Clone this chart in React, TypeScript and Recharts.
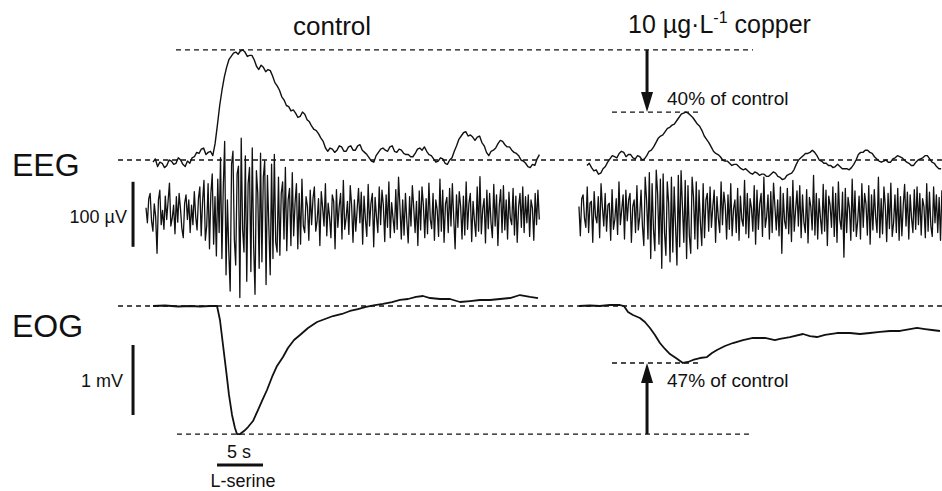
import { ComposedChart, Line, XAxis, YAxis, ReferenceLine, ReferenceDot } from "recharts";

const WIDTH = 942;
const HEIGHT = 491;
const PX_PER_S = 9.2; // 5 s scale bar = 46 px

// where each recording starts on the shared time axis (s)
const CONTROL_T0 = 15.87;
const COPPER_T0 = 62.93;

// integrated EEG, % of control peak, sampled every 0.25 s
const INT_STEP = 0.25;
const INT_CONTROL_START = 0.76;
const INT_CONTROL = [
  -2, 1, -6, -2, -3, -7, -5, 0, -1, -4, -3, 2, 0, -4, -6, -1, -3, 2, 3, 7, 6, 10, 11, 5, 7, 8, 4, 15, 32, 50, 64, 76,
  85, 92, 95, 98, 99, 97, 100, 101, 99, 95, 96, 96, 92, 86, 83, 87, 85, 81, 83, 82, 77, 71, 68, 64, 58, 55, 50, 49, 45,
  46, 43, 39, 40, 44, 42, 37, 35, 31, 28, 27, 24, 20, 17, 11, 8, 11, 10, 7, 9, 13, 12, 8, 8, 12, 13, 9, 9, 13, 14, 9,
  7, 5, 2, -1, -2, 4, 7, 10, 11, 9, 8, 12, 13, 8, 7, 10, 9, 6, 5, 5, 3, 3, 6, 10, 11, 9, 12, 8, 5, 4, 1, -2, -1, 2, 1,
  -3, -4, 0, 2, 8, 13, 19, 22, 25, 26, 22, 23, 21, 18, 21, 22, 16, 13, 7, 4, 8, 9, 11, 15, 18, 17, 14, 12, 12, 9, 7, 6,
  4, 0, -1, -3, -6, -7, -4, -5, 1, 5,
];
const INT_COPPER_START = 0.87;
const INT_COPPER = [
  -5, -3, -7, -10, -9, -13, -12, -8, -6, -2, 1, 4, 3, 2, 6, 8, 7, 3, 5, 5, 2, 1, 4, 3, 0, 1, 4, 8, 9, 12, 16, 20, 22,
  23, 26, 29, 30, 32, 33, 36, 39, 42, 43, 44, 43, 41, 39, 36, 33, 31, 27, 22, 19, 16, 12, 8, 6, 5, 3, 0, -1, -1, -3, -5,
  -4, -4, -6, -8, -9, -8, -10, -12, -13, -11, -12, -14, -13, -13, -15, -15, -13, -11, -12, -15, -16, -18, -17, -14, -13,
  -12, -9, -4, 0, 2, 4, 6, 6, 7, 9, 7, 4, 0, -1, -3, -3, -5, -5, -7, -6, -4, -6, -8, -8, -8, -9, -7, -4, 0, 5, 7, 7, 9,
  9, 7, 6, 3, 1, -1, -2, -1, 0, -2, -2, 1, 2, 4, 3, 2, 0, -2, -3, -5, -5, -2, 0, 1, 2, 4, 4, 1, -2, -3, -6, -8, -8,
];

// raw EEG, µV, sampled every 0.15 s
const RAW_STEP = 0.15;
const RAW_CONTROL = [
  8, -15, 22, 30, -12, -28, 14, -6, -62, 20, 35, -18, 4, -25, 26, -10, 18, 46, -20, -8, 12, -32, 25, -14, 30, 6, -24,
  -38, 15, 28, -10, 20, -30, 12, -18, 33, -5, -26, 22, 40,
  -35, 18, 50, -42, -20, 45, -55, 30, 60, -48, 25, -66, 52,
  -30, 85, -70, 40, 110, -95, 20, -60, -120, 75, 95, -40, -80, 60, 72, -130, 115, -25, -60, 88, -105, 45, 70, -90, 100,
  -50, -125, 65, 30, -85, 92, -75, 55, 80, -110, 58, -20, -95, 75, -70,
  90, -45, -60, 55, -65, 30, 48, -40, 70, -58, 20, 38, -50, 62, -35, 15, 45, -55, 30, -48,
  52, -20, -30, 25, 10, -42, 35, -18, 22, 40, -28, -12, 22, -50, 33, 8, -20, 45, -35, 15, -6, -38, 28, 18, -55, 36,
  -22, 10, 30, -40, 50, -25, -8, 18, -33, 42, 12, -45, 20, -28, 5, 38, -15, 32, -48, 26, -10, -36, 44, -20, 15, 30,
  -52, 24, -5, -30, 40, -18, 35, 12, -44, 28, -22, 48, -38, 16, -8, -30, 36, -25, 55, 10, -40, 20, -34, 30, -12, -46,
  25, -20, 42, 8, -30, 18, -50, 34, -26, 40, 12, -38, 22, -32, 46, -10, -24, 30, -42, 20, 5, -36, 52, -28, 35, -45, 14,
  24, -30, 38, -20, 45, -8, -55, 28, -22, 33, 10, -40, 26, -34, 48, -25, 15, 30, -44, 18, -12, -36, 40, -28, 56, -32,
  6, 22, -46, 35, -24, 30, -15, -38, 44, -20, 28, -50, 12, 36, -30, 42, -26, 20, -40, 32, -8, -18, 38, -34, 26, -45,
  10, 30, -22, 40, -30, 25, -15, 28, -36, 20, 8, -42, 30, -18, 35, -10,
];
const RAW_COPPER = [
  10, -35, 22, 28, -8, -22, 40, -30, 15, 18, -45, 33, -5, -15, 25, -38, 45, 8, -20, 30, -28, 12, 15, -42, 36, -25, -10,
  22, -33, 48, -18, 5, 28, -40, 35, -12, 20, 30, -45, 10, 20, -30, 42, -26, -6, 35, -20,
  -50, 55, 20, -40, 62, -70, 45, -25, -58, 66, 30, -48, 52, -85, 60, -30, -65, 48, 15, -75, 55, -60, 40, -20, -80, 58,
  -52, 65, 10, -45, 50, -70, 42, -35, -62, 55, 25, -40, 48, -55, 35, -15, -50, 45, -38, 20, 30,
  -28, 40, -22, 10, 35, -45, 25, -8, -30, 48, -18, 32, 12, -40, 28, -25, 45, -35, 6, 20, -30, 38, -42, 26, -10, -20,
  50, -32, 30, -38, 22, 8, -28, 42, -48, 35, -25, 14, 30, -36, 55, -22, -6, 28, -40, 33, -30, 46, 10, -26, 20, -35, 40,
  -62, 30, -12, -24, 38, -32, 25, -44, 50, -28, 5, 34, -20, 42, -38, 28, -14, -30, 36, -46, 24, 10, -26, 58, -34, 30,
  -40, 22, -8, -32, 44, -28, 35, -50, 26, 12, -22, 40, -36, 30, -45, 48, -10, -25, 32, -68, 38, -30, 24, 8, -42, 52,
  -28, 34, -36, -12, 26, -40, 45, -22, 30, 14, -34, 42, -48, 28, -26, 36, -6, -30, 55, -38, 22, -32, 40, 10, -44, 30,
  -24, 46, -36, -15, 28, -30, 38, -42, 25, -35, 12, 44, -20, 32, -40, 28, -8, -30, 36, -25, 40, -18, 30, -34, 22, 10,
  -38, 45, -28, 32, -20, -36, 40, -15, 28, -30, 24, -42, 35,
];

// EOG, mV
const EOG_CONTROL_T = [
  0.76, 2.07, 3.48, 4.78, 5.87, 6.96, 7.72, 8.04, 8.37, 8.7, 9.02, 9.35, 9.67, 9.89, 10.22, 10.65, 11.09, 11.63, 12.17,
  12.61, 13.15, 13.7, 14.24, 14.89, 15.43, 16.09, 16.74, 17.61, 18.59, 19.46, 20.33, 21.3, 22.17, 23.04, 23.91, 24.89,
  25.76, 26.74, 27.61, 28.48, 29.35, 30.11, 30.87, 31.96, 33.04, 34.13, 35.22, 36.3, 37.39, 38.48, 39.57, 40.65, 41.74,
  42.61,
];
const EOG_CONTROL_MV = [
  0, 0.007, -0.007, 0, -0.007, 0, 0, -0.2, -0.557, -0.914, -1.271, -1.557, -1.743, -1.829, -1.829, -1.786, -1.729,
  -1.643, -1.486, -1.357, -1.2, -1.014, -0.857, -0.729, -0.6, -0.486, -0.414, -0.314, -0.229, -0.186, -0.143, -0.114,
  -0.071, -0.043, -0.014, 0.014, 0.029, 0.057, 0.086, 0.1, 0.129, 0.143, 0.114, 0.1, 0.1, 0.057, 0.071, 0.086, 0.086,
  0.1, 0.114, 0.157, 0.129, 0.114,
];
const EOG_COPPER_T = [
  0, 1.2, 2.28, 3.37, 4.46, 4.89, 5.33, 5.87, 6.63, 7.17, 7.72, 8.26, 8.8, 9.35, 9.89, 10.54, 11.3, 11.85, 12.39, 13.15,
  13.91, 14.46, 15.0, 15.87, 16.74, 17.83, 18.91, 20.22, 21.3, 21.85, 22.93, 24.35, 25.11, 25.87, 26.74, 28.04, 29.46,
  30.54, 31.63, 32.72, 33.8, 34.89, 35.98, 36.74, 37.61, 38.37, 39.24,
];
const EOG_COPPER_MV = [
  0, 0.007, 0, 0.014, 0.014, 0, -0.086, -0.129, -0.171, -0.229, -0.314, -0.414, -0.529, -0.614, -0.686, -0.743, -0.814,
  -0.8, -0.771, -0.743, -0.729, -0.671, -0.629, -0.571, -0.529, -0.486, -0.457, -0.457, -0.486, -0.471, -0.443, -0.4,
  -0.429, -0.443, -0.414, -0.386, -0.386, -0.4, -0.386, -0.371, -0.357, -0.357, -0.329, -0.314, -0.329, -0.343, -0.357,
];

const CONTROL_INT_MAX = Math.max(...INT_CONTROL);
const COPPER_INT_MAX = Math.max(...INT_COPPER);
const CONTROL_EOG_MIN = Math.min(...EOG_CONTROL_MV);
const COPPER_EOG_MIN = Math.min(...EOG_COPPER_MV);

// y domains from baseline pixel and pixels per unit
const domainFor = (basePx: number, pxPerUnit: number): [number, number] => [
  -(HEIGHT - basePx) / pxPerUnit,
  basePx / pxPerUnit,
];

const uniform = (vals: number[], t0: number, step: number) => vals.map((v, i) => ({ t: t0 + i * step, v }));
const paired = (ts: number[], vals: number[], t0: number) => ts.map((t, i) => ({ t: t0 + t, v: vals[i] }));

const intControl = uniform(INT_CONTROL, CONTROL_T0 + INT_CONTROL_START, INT_STEP);
const intCopper = uniform(INT_COPPER, COPPER_T0 + INT_COPPER_START, INT_STEP);
const rawControl = uniform(RAW_CONTROL, CONTROL_T0, RAW_STEP);
const rawCopper = uniform(RAW_COPPER, COPPER_T0, RAW_STEP);
const eogControl = paired(EOG_CONTROL_T, EOG_CONTROL_MV, CONTROL_T0);
const eogCopper = paired(EOG_COPPER_T, EOG_COPPER_MV, COPPER_T0);

const INK = "#111";
const FONT = "'Liberation Sans', Arial, Helvetica, sans-serif";
const ARROW_T = 70.33;
const BAR_T = 14.46;

const ArrowHead = (dir: "up" | "down") => (props: any) => {
  const { cx, cy } = props;
  const h = dir === "down" ? -20 : 20;
  return <polygon points={`${cx},${cy} ${cx - 6},${cy + h} ${cx + 6},${cy + h}`} fill={INK} />;
};

const dashed = { stroke: INK, strokeWidth: 1.3, strokeDasharray: "5 4" };

const trace = (data: { t: number; v: number }[], axis: string, width: number) => (
  <Line
    data={data}
    dataKey="v"
    yAxisId={axis}
    type="linear"
    dot={false}
    activeDot={false}
    stroke={INK}
    strokeWidth={width}
    strokeLinejoin="round"
    isAnimationActive={false}
  />
);

export default function App() {
  return (
    <div style={{ position: "absolute", left: 0, top: 0, width: WIDTH, height: HEIGHT, background: "#fff" }}>
      <ComposedChart width={WIDTH} height={HEIGHT} margin={{ top: 0, right: 0, bottom: 0, left: 0 }}>
        <XAxis dataKey="t" type="number" domain={[0, WIDTH / PX_PER_S]} hide allowDataOverflow />
        <YAxis yAxisId="int" type="number" domain={domainFor(160, 1.09)} hide allowDataOverflow />
        <YAxis yAxisId="raw" type="number" domain={domainFor(213, 0.65)} hide allowDataOverflow />
        <YAxis yAxisId="eog" type="number" domain={domainFor(306, 70)} hide allowDataOverflow />

        <ReferenceLine yAxisId="int" segment={[{ x: 19.13, y: CONTROL_INT_MAX }, { x: 81.85, y: CONTROL_INT_MAX }]} {...dashed} />
        <ReferenceLine yAxisId="int" segment={[{ x: 12.83, y: 0 }, { x: 102.39, y: 0 }]} {...dashed} />
        <ReferenceLine
          yAxisId="int"
          segment={[{ x: 66.52, y: COPPER_INT_MAX }, { x: 76.09, y: COPPER_INT_MAX }]}
          {...dashed}
        />
        <ReferenceLine yAxisId="eog" segment={[{ x: 12.83, y: 0 }, { x: 102.39, y: 0 }]} {...dashed} />
        <ReferenceLine
          yAxisId="eog"
          segment={[{ x: 19.24, y: CONTROL_EOG_MIN }, { x: 81.85, y: CONTROL_EOG_MIN }]}
          {...dashed}
        />
        <ReferenceLine
          yAxisId="eog"
          segment={[{ x: 66.52, y: COPPER_EOG_MIN }, { x: 75.87, y: COPPER_EOG_MIN }]}
          {...dashed}
        />

        {trace(rawControl, "raw", 1.3)}
        {trace(rawCopper, "raw", 1.3)}
        {trace(intControl, "int", 1.4)}
        {trace(intCopper, "int", 1.4)}
        {trace(eogControl, "eog", 1.8)}
        {trace(eogCopper, "eog", 1.8)}

        {/* arrows */}
        <ReferenceLine
          yAxisId="int"
          segment={[{ x: ARROW_T, y: CONTROL_INT_MAX }, { x: ARROW_T, y: COPPER_INT_MAX + 8 }]}
          stroke={INK}
          strokeWidth={3}
        />
        <ReferenceDot yAxisId="int" x={ARROW_T} y={COPPER_INT_MAX} shape={ArrowHead("down")} />
        <ReferenceLine
          yAxisId="eog"
          segment={[{ x: ARROW_T, y: CONTROL_EOG_MIN }, { x: ARROW_T, y: COPPER_EOG_MIN - 0.15 }]}
          stroke={INK}
          strokeWidth={3}
        />
        <ReferenceDot yAxisId="eog" x={ARROW_T} y={COPPER_EOG_MIN} shape={ArrowHead("up")} />

        {/* scale bars */}
        <ReferenceLine yAxisId="raw" segment={[{ x: BAR_T, y: -52 }, { x: BAR_T, y: 48 }]} stroke={INK} strokeWidth={3} />
        <ReferenceLine yAxisId="eog" segment={[{ x: BAR_T, y: -0.557 }, { x: BAR_T, y: -1.557 }]} stroke={INK} strokeWidth={3} />
        <ReferenceLine yAxisId="eog" segment={[{ x: 23.59, y: -2.271 }, { x: 28.59, y: -2.271 }]} stroke={INK} strokeWidth={3} />
      </ComposedChart>

      <svg
        width={WIDTH}
        height={HEIGHT}
        style={{ position: "absolute", left: 0, top: 0, pointerEvents: "none" }}
        fontFamily={FONT}
        fill={INK}
      >
        <text x={293} y={35} fontSize={26}>control</text>
        <text x={628} y={33} fontSize={25}>
          10 µg·L<tspan dy={-10} fontSize={16}>-1</tspan>
          <tspan dy={10} fontSize={25}> copper</tspan>
        </text>
        <text x={12} y={176} fontSize={32}>EEG</text>
        <text x={12} y={337} fontSize={32}>EOG</text>
        <text x={127} y={223} fontSize={18} textAnchor="end">100 µV</text>
        <text x={123} y={387} fontSize={18} textAnchor="end">1 mV</text>
        <text x={239} y={458} fontSize={18} textAnchor="middle">5 s</text>
        <text x={243} y={487} fontSize={18} textAnchor="middle">L-serine</text>
        <text x={667} y={105} fontSize={19}>40% of control</text>
        <text x={667} y={387} fontSize={19}>47% of control</text>
      </svg>
    </div>
  );
}
